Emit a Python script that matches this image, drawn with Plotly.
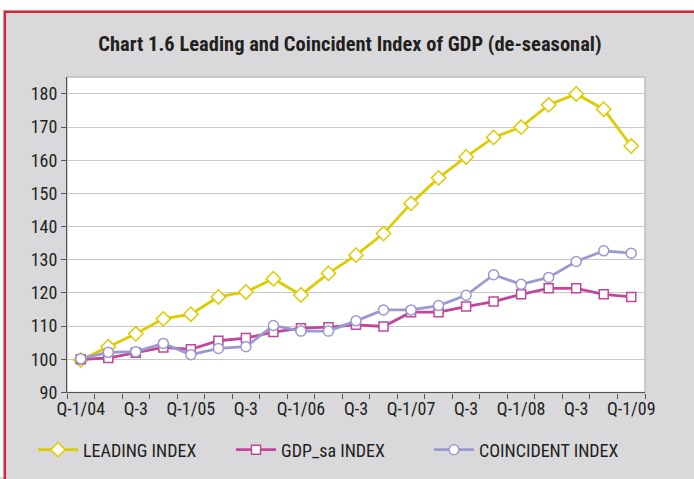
import plotly.graph_objects as go

quarters = ["Q-1/04","Q-2/04","Q-3/04","Q-4/04","Q-1/05","Q-2/05","Q-3/05","Q-4/05",
            "Q-1/06","Q-2/06","Q-3/06","Q-4/06","Q-1/07","Q-2/07","Q-3/07","Q-4/07",
            "Q-1/08","Q-2/08","Q-3/08","Q-4/08","Q-1/09"]
tick_labels = ["Q-1/04","Q-3","Q-1/05","Q-3","Q-1/06","Q-3","Q-1/07","Q-3","Q-1/08","Q-3","Q-1/09"]

leading = [99.8, 103.8, 107.7, 112.2, 113.6, 118.8, 120.3, 124.3, 119.4, 125.9, 131.4,
           137.9, 147.0, 154.7, 161.0, 166.9, 170.0, 176.7, 180.0, 175.4, 164.3]
gdp_sa = [100.0, 100.4, 102.0, 103.6, 103.0, 105.6, 106.4, 108.2, 109.4, 109.7, 110.4,
          109.9, 114.2, 114.2, 115.9, 117.4, 119.6, 121.4, 121.4, 119.6, 118.8]
coincident = [100.2, 102.1, 102.3, 104.8, 101.4, 103.3, 103.8, 110.2, 108.5, 108.5, 111.6,
              114.9, 114.9, 116.2, 119.3, 125.5, 122.6, 124.7, 129.5, 132.7, 132.0]

W, H = 694, 479
L, R, T, B = 66.7, 645.0, 77.0, 398.3

FONT = "Roboto Condensed, Roboto, Liberation Sans, sans-serif"
TXT = "#231f20"
YEL = "#ddcc00"
MAG = "#c0479c"
LAV = "#9a9ad0"
GRAY_BG = "#d9d9db"
RED = "#d2283c"

x = list(range(len(quarters)))

def px2fx(p):
    return (p - L) / (R - L)

def py2fy(p):
    return (B - p) / (B - T)

fig = go.Figure()
fig.add_trace(go.Scatter(x=x, y=leading, name="LEADING INDEX", mode="lines+markers",
                         line=dict(color=YEL, width=2.8),
                         marker=dict(symbol="diamond", size=11, color="white",
                                     line=dict(color=YEL, width=1.5)),
                         text=quarters, legend="legend"))
fig.add_trace(go.Scatter(x=x, y=gdp_sa, name="GDP_sa INDEX", mode="lines+markers",
                         line=dict(color=MAG, width=2.8),
                         marker=dict(symbol="square", size=9, color="white",
                                     line=dict(color=MAG, width=1.5)),
                         text=quarters, legend="legend2"))
fig.add_trace(go.Scatter(x=x, y=coincident, name="COINCIDENT INDEX", mode="lines+markers",
                         line=dict(color=LAV, width=2.8),
                         marker=dict(symbol="circle", size=10, color="white",
                                     line=dict(color=LAV, width=1.5)),
                         text=quarters, legend="legend3"))

shapes = [
    # white strips outside the frame
    dict(type="rect", xref="paper", yref="paper", x0=px2fx(-5), x1=px2fx(W + 5), y0=py2fy(-5), y1=py2fy(9),
         fillcolor="white", line=dict(width=0), layer="above"),
    dict(type="rect", xref="paper", yref="paper", x0=px2fx(-5), x1=px2fx(3), y0=py2fy(-5), y1=py2fy(H + 5),
         fillcolor="white", line=dict(width=0), layer="above"),
    # red frame
    dict(type="rect", xref="paper", yref="paper", x0=px2fx(4.5), x1=px2fx(W + 20), y0=py2fy(10.5), y1=py2fy(H + 20),
         fillcolor="rgba(0,0,0,0)", line=dict(color=RED, width=2.5), layer="above"),
    # plot border
    dict(type="rect", xref="paper", yref="paper", x0=0, x1=1, y0=0, y1=1,
         line=dict(color="#bdbdbd", width=1.5), fillcolor="rgba(0,0,0,0)", layer="below"),
]

leg_common = dict(orientation="h", xref="container", yref="container",
                  xanchor="left", y=1 - 450 / H, yanchor="middle",
                  font=dict(family=FONT, size=18, color=TXT),
                  bgcolor="rgba(0,0,0,0)", itemwidth=40)

fig.update_layout(
    width=W, height=H,
    margin=dict(l=L, r=W - R, t=T, b=H - B, pad=0),
    paper_bgcolor=GRAY_BG, plot_bgcolor="white",
    font=dict(family=FONT, color=TXT, size=18),
    title=dict(text="<b>Chart 1.6 Leading and Coincident Index of GDP (de-seasonal)</b>",
               x=350 / W, xanchor="center", y=1 - 44 / H, yanchor="middle",
               font=dict(family=FONT, size=20.5, color=TXT)),
    showlegend=True,
    legend=dict(leg_common, x=33 / W),
    legend2=dict(leg_common, x=231 / W),
    legend3=dict(leg_common, x=429 / W),
    shapes=shapes,
    xaxis=dict(range=[-0.5, len(quarters) - 0.5], tickmode="array",
               tickvals=list(range(0, len(quarters), 2)), ticktext=tick_labels,
               ticks="outside", ticklen=0, showgrid=False, zeroline=False,
               showline=True, linecolor="#555555", linewidth=1.2,
               tickfont=dict(family=FONT, size=18, color=TXT),
               minor=dict(tickmode="array", tickvals=[i - 0.5 for i in range(len(quarters) + 1)],
                          ticks="outside", ticklen=5, tickcolor="#555555", tickwidth=1,
                          showgrid=False)),
    yaxis=dict(range=[90, 185.1], tickmode="linear", tick0=90, dtick=10,
               ticks="outside", ticklen=5, tickcolor="#555555",
               showgrid=True, gridcolor="#c8c8c8", gridwidth=1.2, zeroline=False,
               showline=True, linecolor="#555555", linewidth=1.2,
               tickfont=dict(family=FONT, size=18, color=TXT)),
)

fig.write_html("out.html", config={"displayModeBar": False},
               post_script="document.body.style.margin='0';document.body.style.overflow='hidden';")
